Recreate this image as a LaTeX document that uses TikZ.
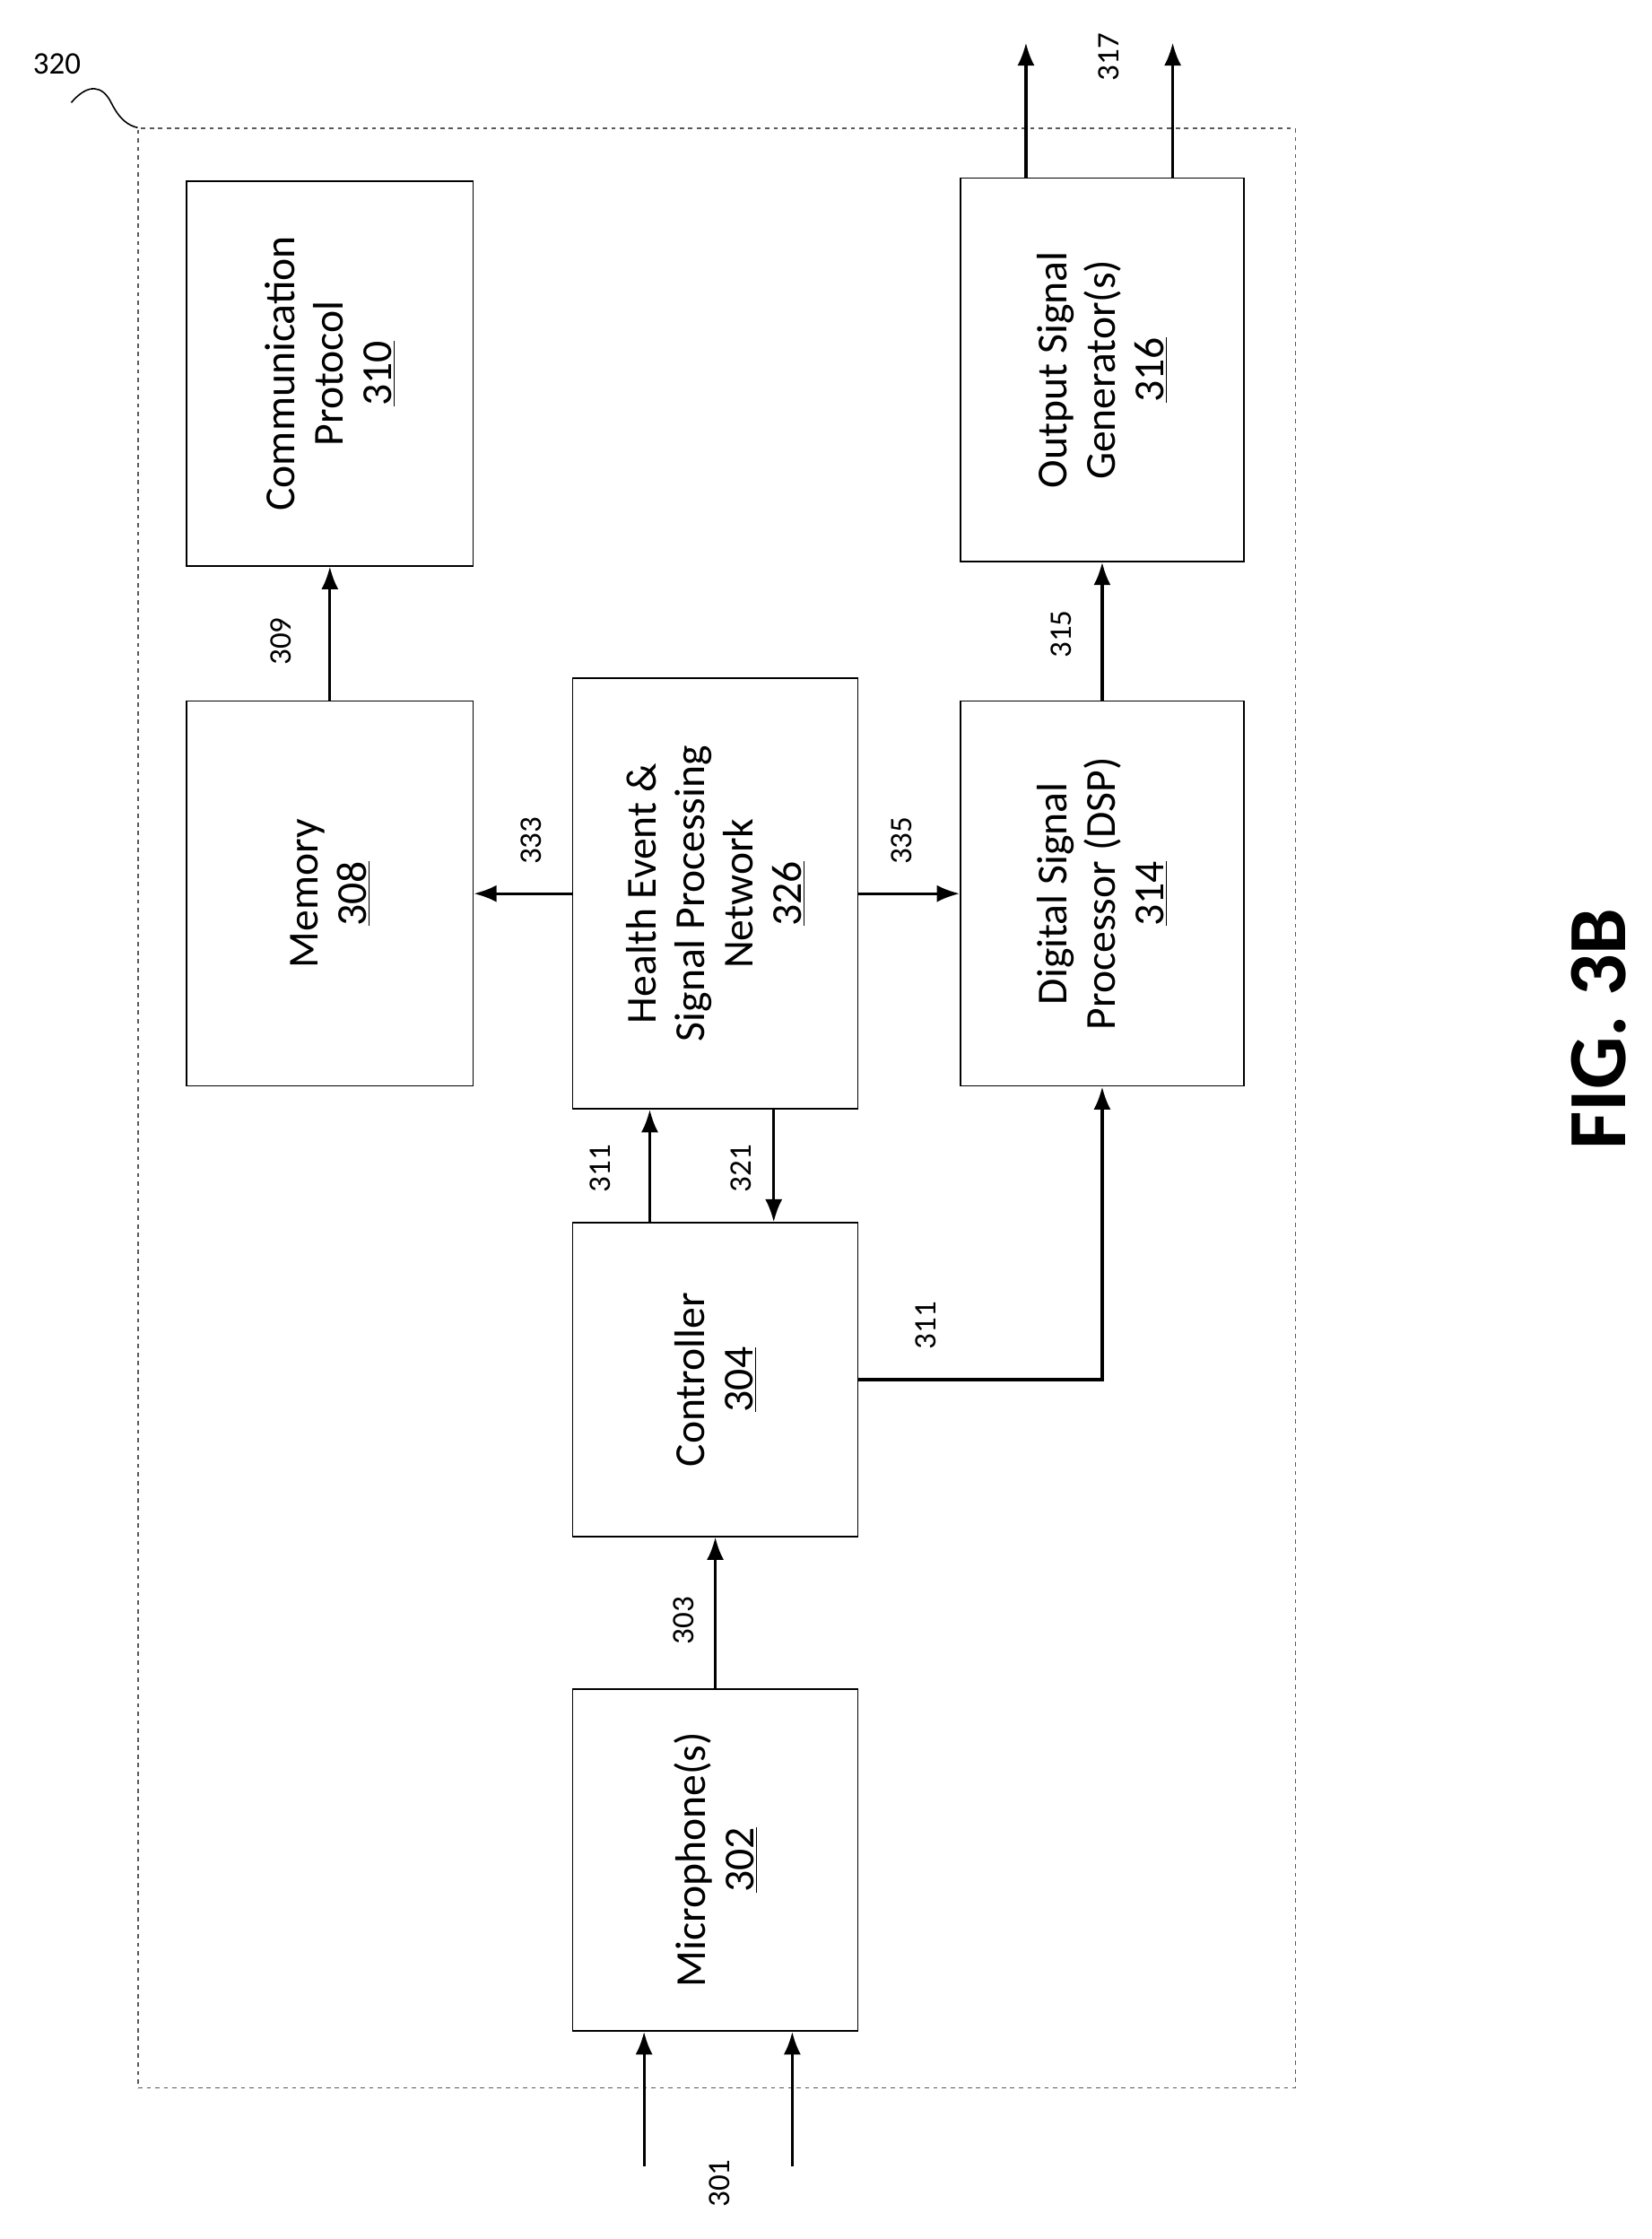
\documentclass[tikz,border=0pt]{standalone}
\usepackage{fontspec}
\setmainfont{Carlito}
\usetikzlibrary{arrows.meta}
\begin{document}
\begin{tikzpicture}[x=1pt,y=-1pt,
  box/.style={draw,line width=1pt,inner sep=0pt},
  txt/.style={rotate=90,align=center,font=\fontsize{30}{34}\selectfont},
  lbl/.style={rotate=90,font=\fontsize{22}{24}\selectfont},
  arr/.style={line width=2pt,-{Latex[length=16pt,width=12pt]}}]
\useasboundingbox (0,0) rectangle (1159,1571);
\node[draw,dashed,line width=0.8pt,gray!70!black,minimum width=812pt,minimum height=1375pt,inner sep=0pt] (outer) at (503,777.5) {};
\node[box,minimum width=201pt,minimum height=270pt] (b310) at (231.5,262) {};
\node[box,minimum width=201pt,minimum height=270pt] (b308) at (231.5,627) {};
\node[box,minimum width=200pt,minimum height=302pt] (b326) at (502,627) {};
\node[box,minimum width=199pt,minimum height=270pt] (b314) at (773.5,627) {};
\node[box,minimum width=199pt,minimum height=269pt] (b316) at (773.5,259.5) {};
\node[box,minimum width=200pt,minimum height=220pt] (b304) at (502,968) {};
\node[box,minimum width=200pt,minimum height=240pt] (b302) at (502,1305) {};
\node[txt] (t310) at (b310.center) {Communication\\Protocol\\\underline{310}};
\node[txt] (t308) at (b308.center) {Memory\\\underline{308}};
\node[txt] (t326) at (b326.center) {Health Event \&\\Signal Processing\\Network\\\underline{326}};
\node[txt] (t314) at (b314.center) {Digital Signal\\Processor (DSP)\\\underline{314}};
\node[txt] (t316) at (b316.center) {Output Signal\\Generator(s)\\\underline{316}};
\node[txt] (t304) at (b304.center) {Controller\\\underline{304}};
\node[txt] (t302) at (b302.center) {Microphone(s)\\\underline{302}};
% arrows
\draw[arr] (b308.north) -- (b310.south);
\node[lbl] (l309) at (197,450) {309};
\draw[arr] (b326.west) -- (b308.east);
\node[lbl] (l333) at (373,590) {333};
\draw[arr] (b326.east) -- (b314.west);
\node[lbl] (l335) at (633,590) {335};
\draw[arr] (b314.north) -- (b316.south);
\node[lbl] (l315) at (745,445) {315};
\coordinate (o1) at (720,30); \coordinate (o2) at (823,30);
\draw[arr] (b316.north -| o1) -- (o1);
\draw[arr] (b316.north -| o2) -- (o2);
\node[lbl] (l317) at (778,40) {317};
\draw[arr] (b304.north -| 456,0) -- (b326.south -| 456,0);
\node[lbl] (l311a) at (421,820) {311};
\draw[arr] (b326.south -| 543,0) -- (b304.north -| 543,0);
\node[lbl] (l321) at (520,820) {321};
\draw[arr] (b304.east) -| (b314.south);
\node[lbl] (l311b) at (650,930) {311};
\draw[arr] (b302.north) -- (b304.south);
\node[lbl] (l303) at (480,1137) {303};
\coordinate (i1) at (452,1520); \coordinate (i2) at (556,1520);
\draw[arr] (i1) -- (b302.south -| i1);
\draw[arr] (i2) -- (b302.south -| i2);
\node[lbl] (l301) at (505,1532) {301};
\node[lbl,rotate=-90] (l320) at (40,45) {320};
\draw[line width=1pt] (50,72) .. controls (62,58) and (72,60) .. (78,72) .. controls (84,84) and (90,88) .. (outer.north west);
\node[rotate=90,font=\bfseries\fontsize{58}{60}\selectfont] (fig) at (1122,722) {FIG. 3B};
\end{tikzpicture}
\end{document}
